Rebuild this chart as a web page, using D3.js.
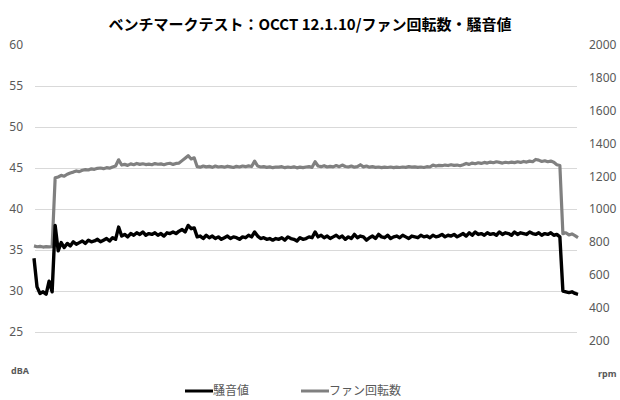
<!DOCTYPE html>
<html><head><meta charset="utf-8">
<script src="https://cdn.jsdelivr.net/npm/d3@7"></script>
<style>body{margin:0;background:#fff;}svg{display:block;font-family:"Noto Sans CJK JP","Noto Sans",sans-serif;}</style>
</head><body><svg id="c" width="620" height="400"></svg>
<script>
const title = "ベンチマークテスト：OCCT 12.1.10/ファン回転数・騒音値";
const leftTicks = [25, 30, 35, 40, 45, 50, 55, 60];
const rightTicks = [200, 400, 600, 800, 1000, 1200, 1400, 1600, 1800, 2000];
const leftUnit = "dBA";
const rightUnit = "rpm";
const seriesNames = ["騒音値", "ファン回転数"];
const noise = [34.0,30.5,29.7,29.9,29.6,31.2,29.9,38.0,34.9,35.9,35.3,35.8,35.5,36.0,35.7,35.9,36.1,35.8,36.2,36.0,
36.1,36.3,36.0,36.2,36.4,36.1,36.5,36.3,37.8,36.7,36.9,36.6,37.0,36.8,37.1,36.9,37.2,36.8,37.0,36.9,
37.1,36.8,37.0,36.7,37.1,37.0,37.2,37.0,37.3,37.5,37.2,38.0,37.6,37.7,36.6,36.7,36.4,36.8,36.5,36.7,
36.4,36.6,36.3,36.5,36.7,36.4,36.6,36.5,36.3,36.6,36.5,36.8,36.6,37.2,36.7,36.4,36.5,36.3,36.4,36.2,
36.4,36.3,36.5,36.2,36.6,36.4,36.3,36.1,36.5,36.3,36.4,36.6,36.5,37.2,36.6,36.8,36.5,36.7,36.4,36.6,
36.8,36.5,36.7,36.3,36.6,36.4,36.9,36.5,36.7,36.6,36.2,36.5,36.7,36.4,36.9,36.6,36.5,36.8,36.4,36.6,
36.7,36.5,36.8,36.6,36.4,36.7,36.6,36.5,36.8,36.6,36.7,36.5,36.8,36.6,36.7,36.9,36.6,36.8,36.7,36.9,
36.6,36.8,37.0,36.7,37.1,36.8,37.2,36.9,37.0,36.8,37.1,36.9,37.0,36.8,37.2,36.9,37.1,37.0,36.8,37.2,
36.9,37.1,37.0,36.9,37.2,37.0,36.9,37.1,36.8,37.0,36.9,37.1,36.8,36.9,36.6,30.0,29.9,29.8,29.9,29.7,29.6];
const fan = [775,770,772,768,771,769,770,1190,1195,1205,1200,1212,1220,1225,1232,1228,1236,1240,1238,1245,
1242,1248,1250,1246,1252,1249,1256,1262,1300,1268,1272,1266,1275,1270,1278,1272,1276,1271,1274,1270,
1277,1273,1275,1270,1276,1279,1272,1278,1280,1295,1310,1325,1305,1312,1258,1255,1262,1257,1260,1254,
1262,1256,1259,1255,1261,1257,1253,1260,1256,1262,1258,1263,1259,1292,1262,1256,1258,1254,1257,1252,
1256,1255,1258,1252,1256,1253,1257,1251,1255,1252,1256,1258,1254,1288,1262,1258,1264,1256,1260,1257,
1265,1258,1268,1259,1256,1262,1255,1258,1270,1257,1262,1255,1258,1254,1256,1252,1255,1253,1256,1252,
1255,1253,1256,1254,1258,1255,1257,1254,1256,1253,1258,1256,1268,1262,1266,1264,1268,1265,1270,1266,
1268,1264,1270,1278,1272,1280,1276,1282,1278,1284,1280,1286,1282,1288,1284,1280,1285,1282,1286,1283,
1288,1284,1290,1286,1292,1288,1302,1298,1290,1294,1288,1292,1285,1270,1265,850,855,842,848,838,826];

const svg = d3.select("#c");
const L = 34, R = 578, T = 45, B = 373;
const x = d3.scaleLinear().domain([0, noise.length - 1]).range([L, R]);
const yL = d3.scaleLinear().domain([20, 60]).range([B, T]);
const yR = d3.scaleLinear().domain([0, 2000]).range([B, T]);

// gridlines
svg.append("g").selectAll("line").data(leftTicks.filter(d => d < 60)).join("line")
  .attr("x1", L + 1).attr("x2", R - 1)
  .attr("y1", d => Math.round(yL(d)) + 0.5).attr("y2", d => Math.round(yL(d)) + 0.5)
  .attr("stroke", "#d9d9d9").attr("stroke-width", 1);

// left axis
const axL = d3.axisLeft(yL).tickValues(leftTicks).tickFormat(d3.format("d")).tickSize(0).tickPadding(0);
const gL = svg.append("g").attr("transform", "translate(23,0)").call(axL);
gL.select(".domain").remove();
gL.selectAll("text").attr("fill", "#595959").style("font-size", "12px").style("font-family", "'Noto Sans','Liberation Sans',sans-serif");

// right axis
const axR = d3.axisRight(yR).tickValues(rightTicks).tickFormat(d3.format("d")).tickSize(0).tickPadding(0);
const gR = svg.append("g").attr("transform", "translate(589,0)").call(axR);
gR.select(".domain").remove();
gR.selectAll("text").attr("fill", "#595959").style("font-size", "12px").style("font-family", "'Noto Sans','Liberation Sans',sans-serif");

svg.append("text").attr("x", 11).attr("y", 374).text(leftUnit)
  .attr("fill", "#595959").style("font-size", "9px").style("font-weight", "bold").style("font-family", "'Noto Sans',sans-serif");
svg.append("text").attr("x", 598).attr("y", 377).text(rightUnit)
  .attr("fill", "#595959").style("font-size", "9px").style("font-weight", "bold").style("font-family", "'Noto Sans',sans-serif");

// lines
const lineL = d3.line().x((d, i) => x(i)).y(d => yL(d));
const lineR = d3.line().x((d, i) => x(i)).y(d => yR(d));
svg.append("path").datum(fan).attr("d", lineR).attr("fill", "none")
  .attr("stroke", "#808080").attr("stroke-width", 3.2).attr("stroke-linejoin", "round");
svg.append("path").datum(noise).attr("d", lineL).attr("fill", "none")
  .attr("stroke", "#000000").attr("stroke-width", 3.4).attr("stroke-linejoin", "round");

// title
svg.append("text").attr("x", 310).attr("y", 30).attr("text-anchor", "middle").text(title)
  .attr("fill", "#000").style("font-size", "15px").style("font-weight", "bold");

// legend
const leg = [{n: seriesNames[0], c: "#000000", x: 185}, {n: seriesNames[1], c: "#808080", x: 301}];
const lg = svg.append("g").selectAll("g").data(leg).join("g").attr("transform", d => `translate(${d.x},391)`);
lg.append("line").attr("x1", 0).attr("x2", 28).attr("y1", 0).attr("y2", 0).attr("stroke", d => d.c).attr("stroke-width", 3);
lg.append("text").attr("x", 28).attr("y", 0).attr("dy", "0.35em").text(d => d.n)
  .attr("fill", "#595959").style("font-size", "12px");
</script></body></html>
